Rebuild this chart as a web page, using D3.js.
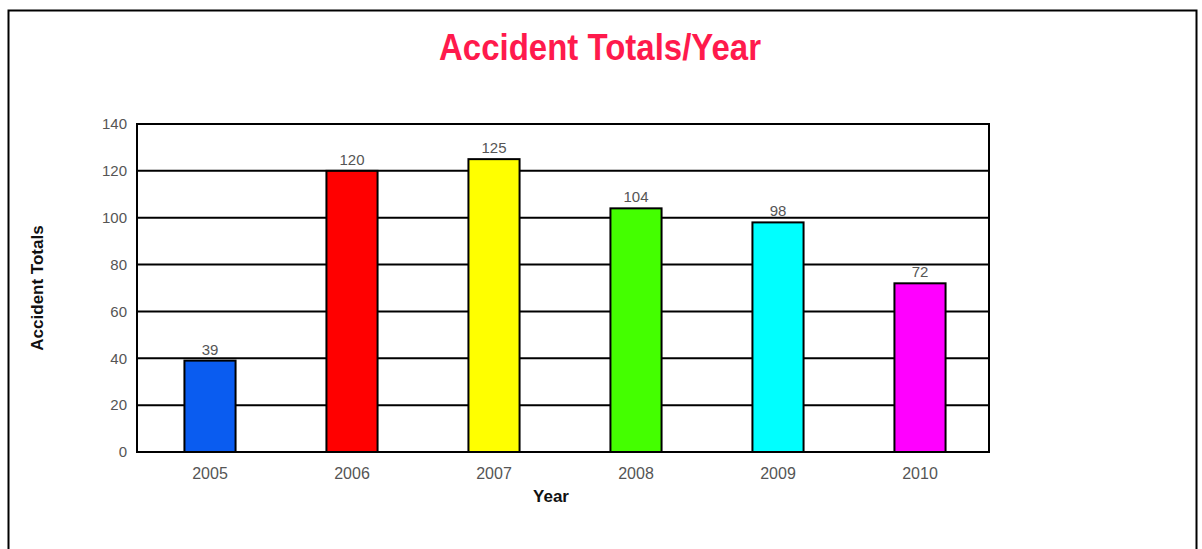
<!DOCTYPE html>
<html>
<head>
<meta charset="utf-8">
<script src="https://cdn.jsdelivr.net/npm/d3@7"></script>
<style>
  body { margin: 0; background: #fff; }
  text { font-family: "Liberation Sans", Arial, sans-serif; }
</style>
</head>
<body>
<div id="chart"></div>
<script>
(function () {
    // chart data
    var years = ["2005", "2006", "2007", "2008", "2009", "2010"];
    var totals = [39, 120, 125, 104, 98, 72];
    var barColors = ["#0a5cf0", "#ff0000", "#ffff00", "#44ff00", "#00ffff", "#ff00ff"];
    var yTicks = [0, 20, 40, 60, 80, 100, 120, 140];

    var W = 1202, H = 549;
    var plot = { left: 137, right: 989, top: 124, bottom: 452 };

    var svg = d3.select("#chart")
        .append("svg")
        .attr("width", W)
        .attr("height", H);

    // outer frame, bottom runs off the page
    svg.append("rect")
        .attr("x", 8.5)
        .attr("y", 10.5)
        .attr("width", 1188)
        .attr("height", 600)
        .attr("fill", "#fff")
        .attr("stroke", "#000")
        .attr("stroke-width", 2);

    svg.append("text")
        .text("Accident Totals/Year")
        .attr("transform", "translate(600,60) scale(1,1.12)")
        .attr("text-anchor", "middle")
        .attr("font-size", 33)
        .attr("font-weight", "bold")
        .attr("fill", "#ff1a4c");

    var x = d3.scaleBand()
        .domain(years)
        .range([plot.left + 2, plot.right + 2])
        .paddingInner(0.64)
        .paddingOuter(0.32);

    var y = d3.scaleLinear()
        .domain([0, 140])
        .range([plot.bottom, plot.top]);

    // gridlines
    svg.append("g")
        .selectAll("line")
        .data(yTicks)
        .join("line")
        .attr("x1", plot.left)
        .attr("x2", plot.right)
        .attr("y1", d => y(d))
        .attr("y2", d => y(d))
        .attr("stroke", "#000")
        .attr("stroke-width", 2);

    // y axis labels
    var yAxis = svg.append("g")
        .attr("transform", "translate(" + plot.left + ",0)")
        .call(d3.axisLeft(y).tickValues(yTicks).tickSize(0).tickPadding(10));
    yAxis.select(".domain").remove();
    yAxis.selectAll("text")
        .attr("font-size", 15)
        .attr("fill", "#555")
        .style("font-family", "Liberation Sans, Arial, sans-serif");

    // x axis labels
    var xAxis = svg.append("g")
        .attr("transform", "translate(0," + plot.bottom + ")")
        .call(d3.axisBottom(x).tickSize(0).tickPadding(16));
    xAxis.select(".domain").remove();
    xAxis.selectAll("text")
        .attr("font-size", 16)
        .attr("fill", "#555")
        .style("font-family", "Liberation Sans, Arial, sans-serif");

    var rows = years.map((yr, i) => ({ year: yr, value: totals[i], color: barColors[i] }));

    svg.append("g")
        .selectAll("rect")
        .data(rows)
        .join("rect")
        .attr("x", d => x(d.year))
        .attr("y", d => y(d.value))
        .attr("width", x.bandwidth())
        .attr("height", d => y(0) - y(d.value))
        .attr("fill", d => d.color)
        .attr("stroke", "#000")
        .attr("stroke-width", 2);

    svg.append("g")
        .selectAll("text")
        .data(rows)
        .join("text")
        .text(d => d.value)
        .attr("x", d => x(d.year) + x.bandwidth() / 2)
        .attr("y", d => y(d.value) - 6)
        .attr("text-anchor", "middle")
        .attr("font-size", 15)
        .attr("fill", "#555");

    // plot frame
    svg.append("rect")
        .attr("x", plot.left)
        .attr("y", plot.top)
        .attr("width", plot.right - plot.left)
        .attr("height", plot.bottom - plot.top)
        .attr("fill", "none")
        .attr("stroke", "#000")
        .attr("stroke-width", 2);

    svg.append("text")
        .text("Year")
        .attr("x", 551)
        .attr("y", 502)
        .attr("text-anchor", "middle")
        .attr("font-size", 17)
        .attr("font-weight", "bold")
        .attr("fill", "#111");

    svg.append("text")
        .text("Accident Totals")
        .attr("transform", "translate(43,288) rotate(-90)")
        .attr("text-anchor", "middle")
        .attr("font-size", 17)
        .attr("font-weight", "bold")
        .attr("fill", "#111");
}());
</script>
</body>
</html>
